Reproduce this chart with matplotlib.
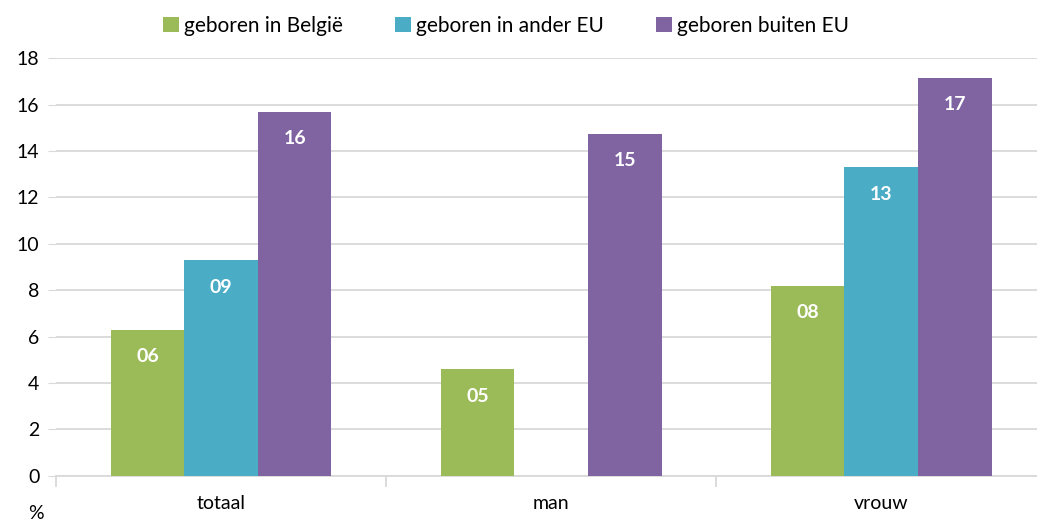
import matplotlib
matplotlib.use("Agg")
import matplotlib.pyplot as plt
import numpy as np

plt.rcParams['font.family'] = ['Lato', 'DejaVu Sans']

# data
categories = ['totaal', 'man', 'vrouw']
series_names = ['geboren in België', 'geboren in ander EU', 'geboren buiten EU']
belgie = [6.3, 4.6, 8.2]
ander_eu = [9.3, np.nan, 13.3]
buiten_eu = [15.7, 14.75, 17.15]
colors = ['#9BBB59', '#4BACC6', '#8064A2']
yticks = [0, 2, 4, 6, 8, 10, 12, 14, 16, 18]

fig = plt.figure(figsize=(10.37, 5.24), dpi=100)
ax = fig.add_axes([0.054, 0.092, 0.955, 0.797])

x = np.arange(len(categories))
w = 0.223
for i, (vals, name, c) in enumerate(zip([belgie, ander_eu, buiten_eu], series_names, colors)):
    pos = x + (i - 1) * w
    bars = ax.bar(pos, vals, width=w, color=c, label=name, zorder=3)
    for b, v in zip(bars, vals):
        if np.isnan(v):
            continue
        ax.annotate('%02.0f' % v, (b.get_x() + b.get_width() / 2, v),
                    xytext=(0, -19.5), textcoords='offset points',
                    ha='center', va='center', color='white',
                    fontsize=14, fontweight='bold', zorder=4)

ax.set_xlim(-0.5, 2.5)
ax.set_ylim(0, 18)
ax.set_yticks(yticks)
ax.grid(axis='y', color='#d9d9d9', linewidth=1.3, zorder=0)
ax.tick_params(axis='y', length=6, color='#d9d9d9', labelsize=14, pad=6)
ax.set_xticks(x)
ax.set_xticklabels(categories, fontsize=14)
ax.tick_params(axis='x', length=0, pad=14)
ax.set_xticks([-0.5, 0.5, 1.5, 2.5], minor=True)
ax.tick_params(axis='x', which='minor', length=8, color='#d9d9d9', width=1.3)
for s in ['top', 'right', 'left']:
    ax.spines[s].set_visible(False)
ax.spines['bottom'].set_color('#d9d9d9')
ax.spines['bottom'].set_linewidth(1.3)

fig.text(0.035, 0.003, '%', fontsize=14, ha='center', va='bottom')

fig.legend(loc='upper center', bbox_to_anchor=(0.488, 1.005), ncol=3, frameon=False,
           fontsize=15, handlelength=0.75, handleheight=0.75, handletextpad=0.25,
           columnspacing=2.5)

fig.savefig('out.png', dpi=100)
